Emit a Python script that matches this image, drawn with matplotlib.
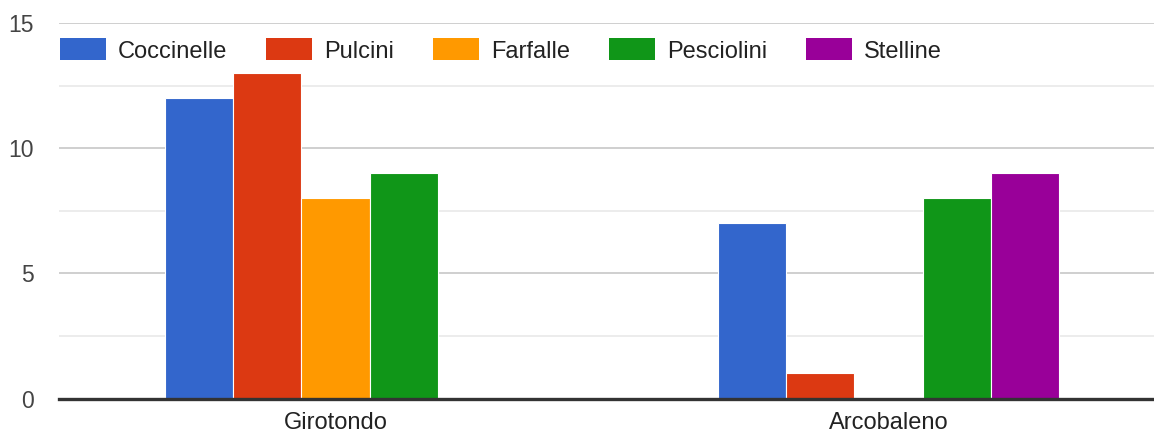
import numpy as np
import matplotlib
matplotlib.use("Agg")
from matplotlib import pyplot as plt
from matplotlib.patches import Rectangle

# data
categories = ["Girotondo", "Arcobaleno"]
series = ["Coccinelle", "Pulcini", "Farfalle", "Pesciolini", "Stelline"]
coccinelle = [12, 7]
pulcini = [13, 1]
farfalle = [8, 0]
pesciolini = [9, 8]
stelline = [0, 9]
values = [coccinelle, pulcini, farfalle, pesciolini, stelline]
colors = ["#3366cc", "#dc3912", "#ff9900", "#109618", "#990099"]
yticks = [0, 5, 10, 15]

plt.rcParams['font.family'] = ['Liberation Sans', 'DejaVu Sans']

W, H = 1154, 436
fig = plt.figure(figsize=(W / 100, H / 100), dpi=100)
# plot area in pixels: left 59, top 23.3, bottom 398.5
ax = fig.add_axes([59 / W, (H - 398.5) / H, (W - 59) / W, (398.5 - 23.3) / H])

x = np.arange(len(categories))
group = 0.618
bw = group / len(series)
for i, (name, vals, c) in enumerate(zip(series, values, colors)):
    off = -group / 2 + bw * (i + 0.5)
    ax.bar(x + off, vals, width=bw, color=c, edgecolor="white",
           linewidth=0.8, zorder=3, label=name)

ax.set_xlim(-0.5, -0.5 + (W - 59) / 553)
ax.set_ylim(0, 15)

# gridlines
for v in [2.5, 7.5, 12.5]:
    ax.axhline(v, color="#ebebeb", lw=1.3, zorder=1)
for v in yticks[1:]:
    ax.axhline(v, color="#cccccc", lw=1.3, zorder=1)
ax.axhline(0, color="#333333", lw=2.4, zorder=5, clip_on=False)

for s in ax.spines.values():
    s.set_visible(False)
ax.set_yticks(yticks)
ax.set_yticklabels([str(t) for t in yticks])
ax.tick_params(axis="y", length=0, pad=18, labelsize=16.5, labelcolor="#444444")
ax.set_xticks(x)
ax.set_xticklabels(categories)
ax.tick_params(axis="x", length=0, pad=10, labelsize=17, labelcolor="#222222")

# legend drawn across the top
fig.canvas.draw()
r = fig.canvas.get_renderer()
px = 60
cy = H - 49
for name, c in zip(series, colors):
    fig.patches.append(Rectangle((px / W, (cy - 11) / H), 46 / W, 22 / H,
                                 transform=fig.transFigure, facecolor=c,
                                 edgecolor="none", zorder=6))
    t = fig.text((px + 58) / W, cy / H, name, fontsize=17, color="#222222",
                 va="center_baseline", ha="left")
    wpx = t.get_window_extent(renderer=r).width
    px = px + 58 + wpx + 39

fig.savefig("out.png", dpi=100)
